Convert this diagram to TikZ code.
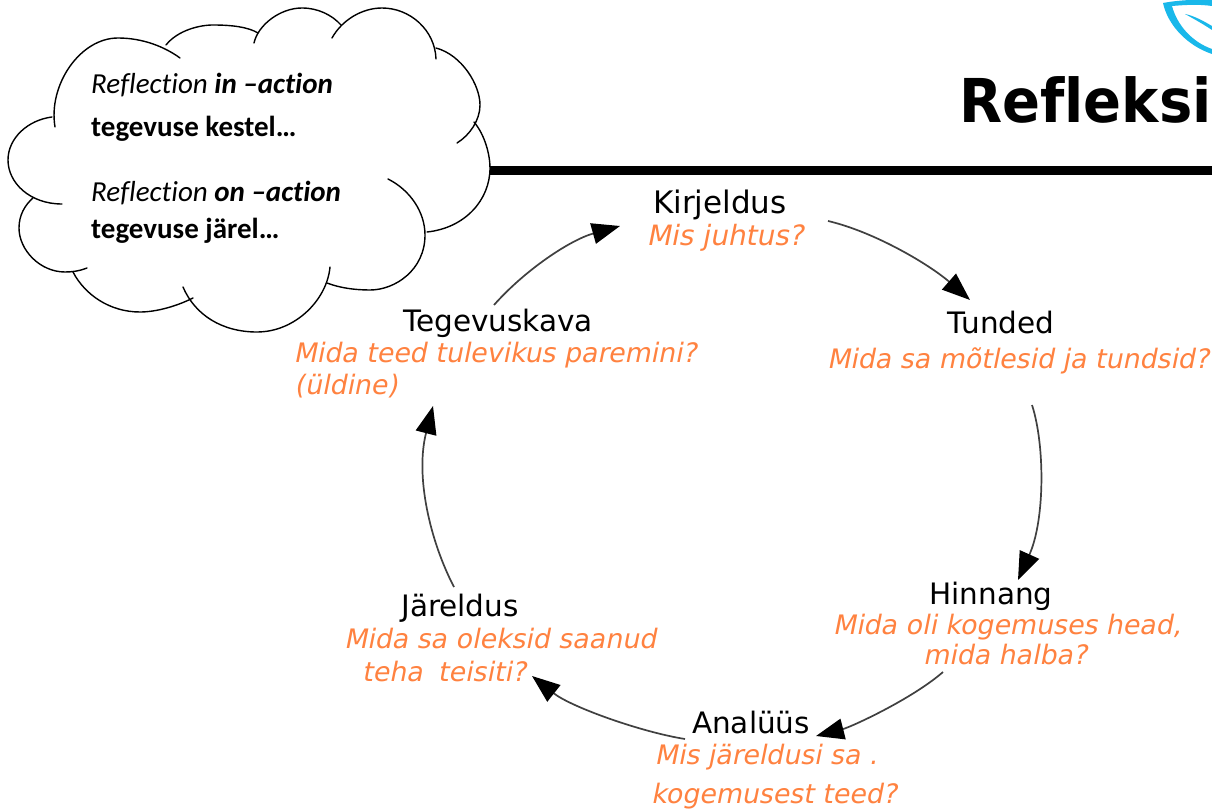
\documentclass[tikz,border=0pt]{standalone}
\usepackage{fontspec}
\setmainfont{DejaVu Sans}
\newfontfamily\calfont[Ligatures=NoCommon]{Carlito}
\usetikzlibrary{arrows.meta}
\definecolor{orangeq}{HTML}{FF8240}
\definecolor{leafc}{HTML}{19B8EA}
\definecolor{connc}{HTML}{404040}
\tikzset{
  head/.style={font=\fontsize{29.5}{32}\selectfont,text=black,inner sep=0pt,anchor=center},
  quest/.style={font=\fontsize{26.8}{30}\selectfont\addfontfeature{FakeSlant=0.2},text=orangeq,inner sep=0pt,anchor=center},
  cloudtxt/.style={font=\calfont\fontsize{29}{32}\selectfont,text=black,inner sep=0pt,anchor=base west},
  conn/.style={draw=connc,line width=1.7pt,-{Triangle[black,length=28pt,width=21pt]}},
  lobeline/.style={draw=black,line width=1.4pt,line cap=round}
}
\newcommand{\cloudlobes}{%
 \lobe{(55,127) .. controls (48,85) and (80,38) .. (118,38) .. controls (143,38) and (165,47) .. (180,58)}
 \lobe{(166,45) .. controls (178,30) and (200,25) .. (213,25) .. controls (232,25) and (248,27) .. (258,33)}
 \lobe{(254,43) .. controls (258,25) and (280,8) .. (302,8) .. controls (318,8) and (332,15) .. (341,25)}
 \lobe{(332,38) .. controls (342,20) and (362,8) .. (382,8) .. controls (410,8) and (435,30) .. (436,59)}
 \lobe{(436,48) .. controls (462,55) and (480,85) .. (480,105) .. controls (480,120) and (470,135) .. (457,143)}
 \lobe{(474,122) .. controls (485,135) and (490,155) .. (490,168) .. controls (490,200) and (465,228) .. (427,232)}
 \lobe{(388,179) .. controls (410,190) and (425,212) .. (425,235) .. controls (425,270) and (395,290) .. (370,290) .. controls (355,290) and (340,288) .. (327,283)}
 \lobe{(330,267) .. controls (327,300) and (295,332) .. (257,332) .. controls (222,332) and (195,315) .. (183,287)}
 \lobe{(193,298) .. controls (175,307) and (155,312) .. (140,312) .. controls (110,312) and (85,295) .. (73,272)}
 \lobe{(87,268) .. controls (80,271) and (72,272) .. (65,272) .. controls (40,272) and (19,250) .. (19,228) .. controls (19,215) and (25,205) .. (33,198)}
 \lobe{(62,204) .. controls (30,204) and (8,183) .. (8,160) .. controls (8,138) and (28,120) .. (52,117)}
}
\begin{document}
\begin{tikzpicture}[x=1pt,y=-1pt]
\clip (0,0) rectangle (1212,810);
\fill[white] (0,0) rectangle (1212,810);
% leaf
\fill[leafc] (1163,3) .. controls (1185,-1) and (1200,0) .. (1212,0) -- (1212,6)
  .. controls (1198,4) and (1184,5) .. (1172,6)
  .. controls (1177,25) and (1192,42) .. (1212,49) -- (1212,54)
  .. controls (1188,46) and (1168,26) .. (1163,3) -- cycle;
\fill[leafc] (1185,14) .. controls (1195,16) and (1205,22) .. (1212,26) -- (1212,30)
  .. controls (1203,24) and (1194,19) .. (1185,14) -- cycle;
\node[font=\bfseries\fontsize{56}{70}\selectfont\addfontfeature{Ligatures=NoCommon},inner sep=0pt,anchor=base west] (title) at (959,123) {\scalebox{1}[1.08]{Refleksi}};
\fill[black] (485,166) rectangle (1212,175);
% cloud
\fill[white] plot coordinates {(55,127)(113,60)(213,40)(300,25)(380,25)(436,59)(465,130)(470,180)(420,225)(390,280)(330,280)(260,320)(185,295)(140,300)(75,265)(35,215)(25,160)};
\def\lobe#1{\fill[white] #1;}
\cloudlobes
\def\lobe#1{\draw[lobeline] #1;}
\cloudlobes
\node[cloudtxt] (c1) at (91,94) {\itshape Reflection \bfseries in –action};
\node[cloudtxt] (c2) at (91,137) {\bfseries tegevuse kestel…};
\node[cloudtxt] (c3) at (91,202) {\itshape Reflection \bfseries on –action};
\node[cloudtxt] (c4) at (91,239) {\bfseries tegevuse järel…};
% stages
\node[head,font=\fontsize{31}{34}\selectfont] (kir) at (720,205) {Kirjeldus};
\node[quest,font=\fontsize{28}{30}\selectfont\addfontfeature{FakeSlant=0.2}] (kirq) at (725,238) {Mis juhtus?};
\node[head] (tun) at (1001,323) {Tunded};
\node[quest] (tunq) at (1018,361) {Mida sa mõtlesid ja tundsid?};
\node[head] (hin) at (991,596) {Hinnang};
\node[quest] (hinq1) at (1007,627) {Mida oli kogemuses head,};
\node[quest] (hinq2) at (1005,655) {mida halba?};
\node[head] (ana) at (751,722) {Analüüs};
\node[quest] (anaq1) at (766,757) {Mis järeldusi sa .};
\node[quest] (anaq2) at (774,796) {kogemusest teed?};
\node[head] (jar) at (460,608) {Järeldus};
\node[quest] (jarq1) at (500,639) {Mida sa oleksid saanud};
\node[quest] (jarq2) at (444,672) {teha\hspace{7pt} teisiti?};
\node[head] (teg) at (498,323) {Tegevuskava};
\node[quest] (tegq1) at (495,355) {Mida teed tulevikus paremini?};
\node[quest] (tegq2) at (346,386) {(üldine)};
% connectors (offsets from the node centres)
\draw[conn] ([shift={(103,-17)}]kirq.center) .. controls ([shift={(-126,-91)}]tun.center) and ([shift={(-71,-58)}]tun.center) .. ([shift={(-31,-23)}]tun.center);
\draw[conn] ([shift={(14,44)}]tunq.center) .. controls ([shift={(27,84)}]tunq.center) and ([shift={(54,-76)}]hin.center) .. ([shift={(27,-16)}]hin.center);
\draw[conn] ([shift={(-62,17)}]hinq2.center) .. controls ([shift={(-93,44)}]hinq2.center) and ([shift={(100,5)}]ana.center) .. ([shift={(65,14)}]ana.center);
\draw[conn] ([shift={(-66,17)}]ana.center) .. controls ([shift={(-110,10)}]ana.center) and ([shift={(-180,-15)}]ana.center) .. ([shift={(88,4)}]jarq2.center);
\draw[conn] ([shift={(-6,-21)}]jar.center) .. controls ([shift={(-30,-67)}]jar.center) and ([shift={(-45,-132)}]jar.center) .. ([shift={(-62,51)}]tegq1.center);
\draw[conn] ([shift={(-4,-18)}]teg.center) .. controls ([shift={(27,-53)}]teg.center) and ([shift={(-155,2)}]kirq.center) .. ([shift={(-105,-12)}]kirq.center);
\end{tikzpicture}
\end{document}
